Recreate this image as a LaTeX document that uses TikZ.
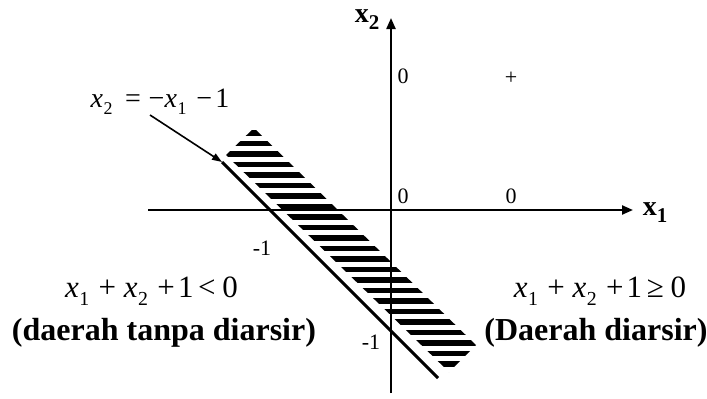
\documentclass[tikz,border=0pt]{standalone}
\usepackage{fontspec}
\usepackage{graphicx}
\setmainfont{Liberation Serif}
\usetikzlibrary{arrows.meta,calc}
\newcommand{\xs}[1]{\textit{x}\kern0.02em\raisebox{-0.27em}{\scalebox{0.64}{#1}}}
\newcommand{\xb}[1]{\textbf{x}\raisebox{-0.25em}{\scalebox{0.75}{\textbf{#1}}}}
\tikzset{
  axis/.style={line width=2.2pt,-{Triangle[length=11pt,width=9pt]}},
  tick/.style={inner sep=0pt,font=\fontsize{22}{22}\selectfont},
  mathlbl/.style={inner sep=0pt,anchor=base,font=\fontsize{31}{31}\selectfont},
  boldlbl/.style={inner sep=0pt,anchor=base,font=\fontsize{32}{32}\selectfont\bfseries},
  axlbl/.style={inner sep=0pt,font=\fontsize{28}{28}\selectfont},
  bound/.style={line width=3pt},
  pointer/.style={line width=1.6pt,-{Triangle[length=10pt,width=7pt]}}
}
\begin{document}
\begin{tikzpicture}[x=1pt,y=-1pt]
\useasboundingbox (0,0) rectangle (707,399);
% hatched band
\coordinate (A) at (226,155);
\coordinate (B) at (254,128);
\coordinate (C) at (476,345);
\coordinate (D) at (449,372);
\begin{scope}
  \clip (A) -- (B) -- (C) -- (D) -- cycle;
  \foreach \k in {-1,...,24}{
    \fill (200,{133+10.5*\k-2.6}) rectangle (500,{133+10.5*\k+2.6});
  }
\end{scope}
% axes
\coordinate (xl) at (148,210);
\coordinate (xr) at (633,210);
\coordinate (yb) at (391,393);
\coordinate (yt) at (391,18);
\draw[axis] (xl) -- (xr);
\draw[axis] (yb) -- (yt);
% boundary line
\coordinate (ls) at (222,162);
\coordinate (le) at (438,378);
\draw[bound] (ls) -- (le);
% axis labels
\node[axlbl] (x2) at (367,20) {\xb{2}};
\node[axlbl] (x1) at (655,213) {\xb{1}};
% tick labels
\node[tick] (z1) at (403,76) {0};
\node[tick] (pl) at (511,78) {+};
\node[tick] (z2) at (403,196) {0};
\node[tick] (z3) at (511,196) {0};
\node[tick] (m1) at (262,248) {-1};
\node[tick] (m2) at (371,342) {-1};
% equation and pointer
\node[mathlbl,font=\fontsize{28}{28}\selectfont] (eq) at (160,107)
  {\xs{2}\hspace{0.45em}=\hspace{0.28em}−\xs{1}\hspace{0.35em}−\hspace{0.12em}1};
\coordinate (ps) at (150,115);
\draw[pointer] (ps) -- (ls);
% region texts
\node[mathlbl] (lm) at (151.5,297)
  {\xs{1}\hspace{0.3em}+\hspace{0.25em}\xs{2}\hspace{0.3em}+\hspace{0.1em}1\hspace{0.15em}<\hspace{0.22em}0};
\node[boldlbl] (lb) at (164,340) {(daerah tanpa diarsir)};
\node[mathlbl] (rm) at (600,297)
  {\xs{1}\hspace{0.3em}+\hspace{0.25em}\xs{2}\hspace{0.3em}+\hspace{0.1em}1\hspace{0.15em}≥\hspace{0.22em}0};
\node[boldlbl] (rb) at (596,340) {(Daerah diarsir)};
\end{tikzpicture}
\end{document}
